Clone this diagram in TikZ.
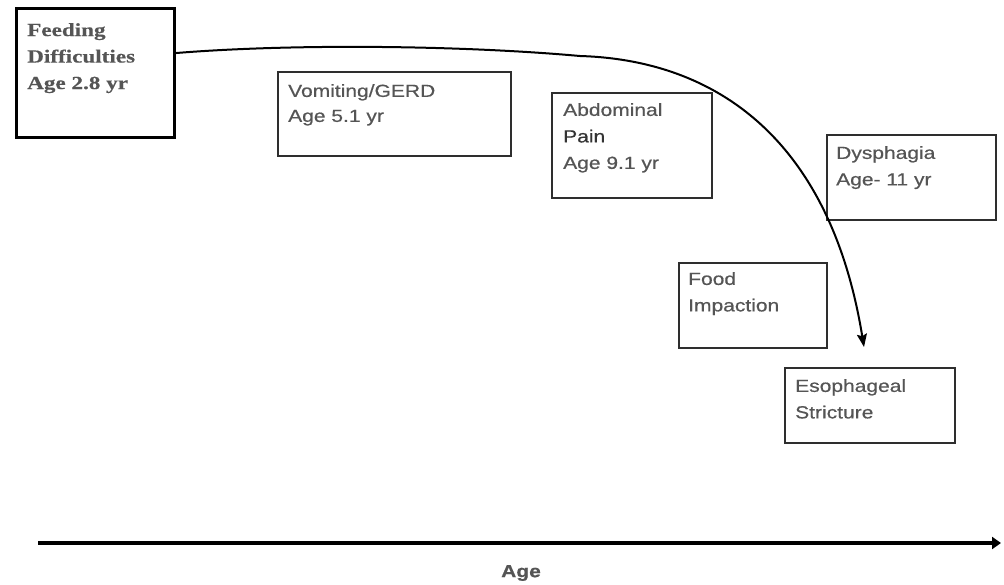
\documentclass[tikz,border=0pt]{standalone}
\usepackage{fontspec}
\newfontfamily\lsans[FakeStretch=1.2,FakeBold=0.6]{Liberation Sans}
\newfontfamily\lserif[FakeStretch=1.25,FakeBold=0.4]{Liberation Serif}
\usetikzlibrary{arrows.meta,calc}
\definecolor{txtgray}{HTML}{555555}
\definecolor{boxline}{HTML}{2E2E2E}
\tikzset{
  box/.style={draw=boxline, line width=1.8pt, rectangle, inner sep=0pt, anchor=north west},
  txt/.style={anchor=north west, inner sep=0pt, align=left, text=txtgray,
    font=\lsans\fontsize{17.5}{26.5}\selectfont},
  conn/.style={line width=2pt, black},
}
\begin{document}
\begin{tikzpicture}[x=1pt,y=-1pt]
\useasboundingbox (0,0) rectangle (1004,584);
% boxes
\node[box, draw=black, line width=2.6pt, minimum width=158pt, minimum height=129pt] (feed) at (15,7) {};
\node[box, minimum width=233pt, minimum height=84pt] (vom) at (277,71) {};
\node[box, minimum width=160pt, minimum height=105pt] (abd) at (551,92) {};
\node[box, minimum width=169pt, minimum height=85pt] (dys) at (826,134) {};
\node[box, minimum width=148pt, minimum height=85pt] (food) at (678,262) {};
\node[box, minimum width=170pt, minimum height=75pt] (eso) at (784,367) {};
% texts
\node[txt, text=txtgray, font=\lserif\bfseries\fontsize{18.5}{26.5}\selectfont] (feed-t) at (27,23) {Feeding\\Difficulties\\Age 2.8 yr};
\node[txt, font=\lsans\fontsize{17.5}{25}\selectfont] (vom-t) at (288,84) {Vomiting/GERD\\Age 5.1 yr};
\node[txt] (abd-t) at (563,103) {Abdominal\\\textcolor{black!80}{Pain}\\Age 9.1 yr};
\node[txt] (dys-t) at (836,146) {Dysphagia\\Age- 11 yr};
\node[txt] (food-t) at (688,272) {Food\\Impaction};
\node[txt] (eso-t) at (795,379) {Esophageal\\Stricture};
% curve
\coordinate (cstart) at ($(feed.north east)!0.35!(feed.south east)$);
\coordinate (cmid) at (580,56);
\coordinate (tip) at (864,347);
\draw[conn, -{Stealth[length=13pt,width=10pt,inset=2pt]}]
  (cstart) .. controls (300,43) and (470,46) .. (cmid)
  .. controls (715,60) and (830,138) .. (tip);
% axis
\coordinate (axL) at (38,543);
\coordinate (axR) at (1001,543);
\draw[line width=4.5pt, -{Triangle[length=9pt,width=12pt]}] (axL) -- (axR);
\node[txt, anchor=center, font=\lsans\bfseries\fontsize{17.5}{20}\selectfont] (age) at (521,573) {Age};
\end{tikzpicture}
\end{document}
